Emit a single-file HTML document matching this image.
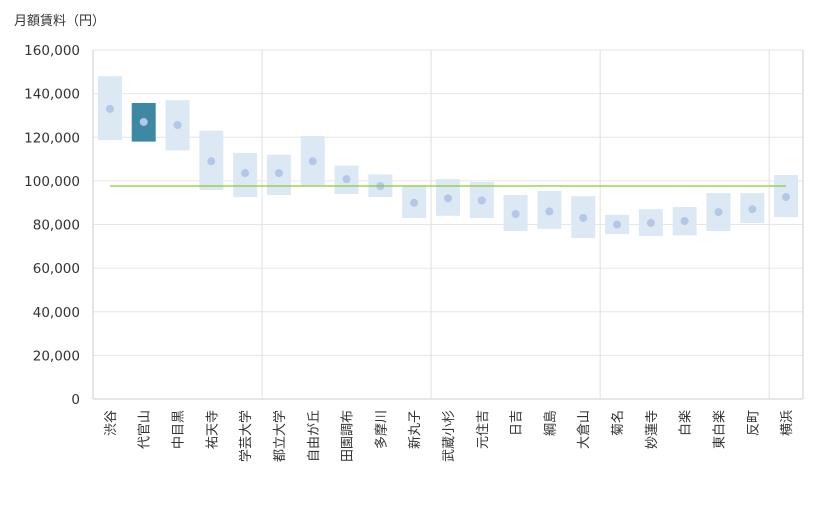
<!DOCTYPE html>
<html><head><meta charset="utf-8"><style>
body{margin:0;background:#fff}
text{font-family:"DejaVu Sans","Noto Sans CJK JP",sans-serif;fill:#333}
</style></head><body>
<svg width="820" height="510" xmlns="http://www.w3.org/2000/svg">
<text x="14" y="25" font-size="13" style="font-family:'Noto Sans CJK JP',sans-serif">月額賃料（円）</text>
<g id="g"></g>
</svg>
<script>
const d=[["渋谷",148,118.7,133],["代官山",135.7,118,127],["中目黒",137,114,125.6],["祐天寺",123,95.8,109],["学芸大学",112.8,92.6,103.6],["都立大学",112,93.5,103.6],["自由が丘",120.6,98,109],["田園調布",107,94,100.8],["多摩川",103,92.6,97.6],["新丸子",97.6,83,89.9],["武蔵小杉",100.8,84,92],["元住吉",99.5,83,91],["日吉",93.5,77,84.8],["綱島",95.4,78,86],["大倉山",93,73.8,83],["菊名",84.4,75.6,80],["妙蓮寺",87,74.7,80.7],["白楽",88,75,81.6],["東白楽",94.4,77,85.7],["反町",94.4,80.7,87],["横浜",102.7,83.4,92.6]];
const Y=v=>399-v*349/160;const L=93,W=710/21;let s='';
for(let i=0;i<=8;i++){const y=Y(i*20);s+=`<line x1="${L}" x2="803" y1="${y}" y2="${y}" stroke="${i?'#e6e6e6':'#ccc'}"/>`;
s+=`<text x="80" y="${y+5}" font-size="13.5" text-anchor="end">${i?(i*20)+',000':'0'}</text>`;}
[0,5,10,15,20,21].forEach(k=>{const x=L+W*k;s+=`<line x1="${x}" x2="${x}" y1="50" y2="399" stroke="${k==0||k==21?'#ccc':'#e0e0e0'}"/>`});
d.forEach((r,i)=>{const c=L+W*(i+.5);const hi=i==1;
s+=`<rect x="${c-12}" y="${Y(r[1])}" width="24" height="${Y(r[2])-Y(r[1])}" fill="${hi?'#3f88a4':'#dde8f5'}"/>`;
s+=`<circle cx="${c}" cy="${Y(r[3])}" r="4" fill="#b4c7e7"/>`;
s+=`<text transform="translate(${c+5},410) rotate(-90)" font-size="13" text-anchor="end" style="font-family:'Noto Sans CJK JP',sans-serif">${r[0]}</text>`;});
s+=`<line x1="110" x2="786" y1="186" y2="186" stroke="#8cc63f" stroke-width="1.2"/>`;
document.getElementById('g').innerHTML=s;
</script>
</body></html>
